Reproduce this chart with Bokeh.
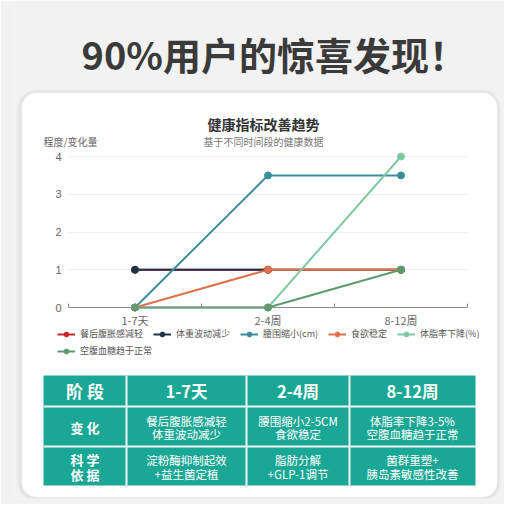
from bokeh.plotting import figure
from bokeh.models import Range1d, Label, BoxAnnotation, Legend, LegendItem, FixedTicker
from bokeh.core.properties import value
from bokeh.embed import file_html
from bokeh.resources import INLINE

# ---------------- data ----------------
categories = ["1-7天", "2-4周", "8-12周"]
bloating = [1, 1, 1]
weight_fluct = [1, 1, 1]
waist = [0, 3.5, 3.5]
appetite = [0, 1, 1]
bodyfat = [0, 0, 4]
glucose = [0, 0, 1]
series_names = ["餐后腹胀感减轻", "体重波动减少", "腰围缩小(cm)", "食欲稳定", "体脂率下降(%)", "空腹血糖趋于正常"]
series_colors = ["#c8262c", "#1f3448", "#3c8e9b", "#e0714f", "#7fc9a2", "#5c9b6d"]
y_ticks = [0, 1, 2, 3, 4]

main_title = "90%用户的惊喜发现！"
chart_title = "健康指标改善趋势"
chart_subtitle = "基于不同时间段的健康数据"
y_axis_name = "程度/变化量"

table_header = ["阶 段", "1-7天", "2-4周", "8-12周"]
row_change_label = "变 化"
row_change = [["餐后腹胀感减轻", "体重波动减少"], ["腰围缩小2-5CM", "食欲稳定"], ["体脂率下降3-5%", "空腹血糖趋于正常"]]
row_basis_label = ["科 学", "依 据"]
row_basis = [["淀粉酶抑制起效", "+益生菌定植"], ["脂肪分解", "+GLP-1调节"], ["菌群重塑+", "胰岛素敏感性改善"]]

FONT = "Noto Sans CJK SC"

# ---------------- layout (picture pixels) ----------------
W, H = 504, 504
L, B = 14, 6                        # side panels that hold the axes
CH_L, CH_R = 68, 467                # plot area of the line chart
Y0, Y4 = 307, 156
FR_L, FR_R, FR_T, FR_B = L, W, 0, H - B
ux = (CH_R - CH_L) / len(categories)
uy = (Y0 - Y4) / max(y_ticks)

p = figure(width=W, height=H, output_backend="svg", toolbar_location=None,
           x_range=Range1d((FR_L - CH_L) / ux, (FR_R - CH_L) / ux),
           y_range=Range1d((Y0 - FR_B) / uy, (Y0 - FR_T) / uy),
           min_border=0, min_border_left=L, min_border_right=0,
           min_border_top=0, min_border_bottom=B)
p.border_fill_color = "#f2f2f2"
p.background_fill_color = "#f2f2f2"
p.outline_line_color = None


def sx(px):
    return px - FR_L


def sy(py):
    return FR_B - py


def box(l, t, r, b, color, alpha=1.0, radius=0, level="image", line_color=None, line_width=1):
    p.add_layout(BoxAnnotation(left=sx(l), right=sx(r), top=sy(t), bottom=sy(b),
                               left_units="screen", right_units="screen",
                               top_units="screen", bottom_units="screen",
                               fill_color=color, fill_alpha=alpha, line_color=line_color,
                               line_width=line_width, border_radius=radius, level=level))


def lab(text, px, py, size, color, bold=False, align="center"):
    p.add_layout(Label(x=sx(px), y=sy(py), x_units="screen", y_units="screen", text=text,
                       text_font=FONT, text_font_size=size, text_color=color,
                       text_font_style="bold" if bold else "normal",
                       text_align=align, text_baseline="middle"))


# card shadow + card
box(16, 89, 501, 502, "#000000", 0.025, 20)
box(18, 90, 499, 500, "#000000", 0.035, 18)
box(21, 92, 497, 497, "#ffffff", 1.0, 15, line_color="#d9d9d9", line_width=1.5)

# axes
xs = [i + 0.5 for i in range(len(categories))]
p.yaxis.fixed_location = 0
p.yaxis.ticker = FixedTicker(ticks=y_ticks)
p.yaxis.axis_line_color = None
p.yaxis.major_tick_line_color = None
p.yaxis.minor_tick_line_color = None
p.yaxis.major_tick_out = 0
p.yaxis.major_label_text_color = "#666666"
p.yaxis.major_label_text_font_size = "11px"
p.yaxis.major_label_standoff = 7

p.xaxis.fixed_location = 0
p.xaxis.bounds = (0, len(categories))
p.xaxis.ticker = FixedTicker(ticks=xs, minor_ticks=list(range(len(categories) + 1)))
p.xaxis.major_label_overrides = {x: "" for x in xs}
p.xaxis.major_label_text_font_size = "0px"
p.xaxis.major_label_standoff = 0
p.xaxis.axis_line_color = "#8a8a8a"
p.xaxis.major_tick_line_color = None
p.xaxis.major_tick_out = 0
p.xaxis.major_tick_in = 0
p.xaxis.minor_tick_line_color = "#8a8a8a"
p.xaxis.minor_tick_in = 4
p.xaxis.minor_tick_out = 0

# category labels under the axis line
p.text(x=xs, y=[0] * len(categories), text=categories, text_align="center", text_baseline="top",
       y_offset=4, text_font=value(FONT), text_font_size="11px", text_color="#666666")

p.ygrid.ticker = FixedTicker(ticks=y_ticks)
p.ygrid.grid_line_color = "#eceef3"
try:
    p.ygrid.cross_bounds = (0, len(categories))
except Exception:
    pass
p.xgrid.grid_line_color = None

# series
series_values = [bloating, weight_fluct, waist, appetite, bodyfat, glucose]
items = []
for name, vals, col in zip(series_names, series_values, series_colors):
    r1 = p.line(xs, vals, line_color=col, line_width=2)
    r2 = p.scatter(xs, vals, size=7, fill_color=col, line_color=col)
    items.append(LegendItem(label=name, renderers=[r1, r2]))


def mk_legend(its, loc):
    lg = Legend(items=its, orientation="horizontal", location=loc,
                label_text_font=FONT, label_text_font_size="9px", label_text_color="#555555",
                glyph_width=18, glyph_height=12, label_height=12, label_standoff=5, spacing=10,
                padding=0, margin=0, border_line_color=None, background_fill_alpha=0)
    p.add_layout(lg, "center")


mk_legend(items[:5], (sx(57), sy(340)))
mk_legend(items[5:], (sx(57), sy(357)))

# titles
lab(main_title, 81, 53, "38px", "#3a3a3a", bold=True, align="left")
lab(chart_title, 263, 123, "14px", "#333333", bold=True)
lab(chart_subtitle, 263, 141, "10px", "#777777")
lab(y_axis_name, 43, 141, "10px", "#666666", align="left")

# table
cols = [43, 126, 246, 349, 475]
rows = [375, 406, 446, 485]
TEAL = "#1ba795"
box(cols[0], rows[0], cols[-1], rows[-1], TEAL, level="underlay")
for c in cols[1:-1]:
    box(c - 1, rows[0], c + 1, rows[-1], "#f2f7f6", level="underlay")
for r in rows[1:-1]:
    box(cols[0], r - 1, cols[-1], r + 1, "#f2f7f6", level="underlay")

centers = [(cols[i] + cols[i + 1]) / 2 for i in range(4)]
lab(table_header[0], centers[0], 390, "17px", "#ffffff", bold=True)
for i in range(1, 4):
    lab(table_header[i], centers[i], 390, "16.5px", "#ffffff", bold=True)
lab(row_change_label, centers[0], 427, "13px", "#ffffff", bold=True)
for i in range(3):
    lab(row_change[i][0], centers[i + 1], 420, "11.5px", "#ffffff")
    lab(row_change[i][1], centers[i + 1], 433, "11.5px", "#ffffff")
lab(row_basis_label[0], centers[0], 459, "13px", "#ffffff", bold=True)
lab(row_basis_label[1], centers[0], 474, "13px", "#ffffff", bold=True)
for i in range(3):
    lab(row_basis[i][0], centers[i + 1], 459, "11.5px", "#ffffff")
    lab(row_basis[i][1], centers[i + 1], 473, "11.5px", "#ffffff")

open("out.html", "w").write(file_html(p, INLINE))
